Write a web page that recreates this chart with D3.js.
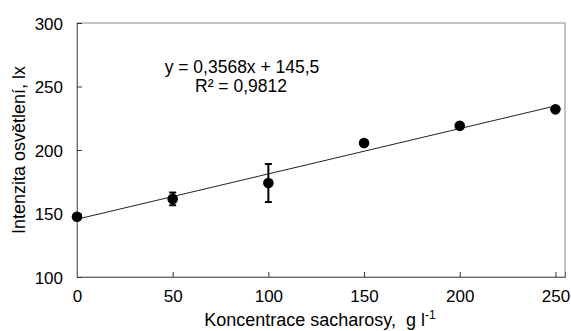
<!DOCTYPE html>
<html>
<head>
<meta charset="utf-8">
<script src="https://cdn.jsdelivr.net/npm/d3@7"></script>
<style>
  body { margin: 0; background: #fff; }
  text { font-family: "Liberation Sans", Arial, sans-serif; fill: #000; }
</style>
</head>
<body>
<div id="plot"></div>
<script>
// data
var conc = [0, 50, 100, 150, 200, 250];
var intensity = [147.5, 161.5, 174, 205.5, 219, 232];
var errs = [0, 5, 15, 0, 0, 0];
var xTicks = [0, 50, 100, 150, 200, 250];
var yTicks = [100, 150, 200, 250, 300];
var slope = 0.3568, intercept = 145.5;

var margin = {top: 23, right: 6, bottom: 54, left: 77},
    width = 571 - margin.left - margin.right,
    height = 331 - margin.top - margin.bottom;

var svg = d3.select("#plot")
  .append("svg")
    .attr("width", 571)
    .attr("height", 331)
  .append("g")
    .attr("transform", "translate(" + margin.left + "," + margin.top + ")");

var x = d3.scaleLinear().domain([0, 255]).range([0, width]);
var y = d3.scaleLinear().domain([100, 300]).range([height, 0]);

// frame
svg.append("rect")
  .attr("x", 0).attr("y", 0)
  .attr("width", width).attr("height", height)
  .attr("fill", "none")
  .attr("stroke", "#8a8a8a")
  .attr("stroke-width", 1);

// axes, ticks pointing inward
var xAxis = svg.append("g")
  .attr("transform", "translate(0," + height + ")")
  .call(d3.axisBottom(x).tickValues(xTicks).tickSize(-5).tickPadding(13));
var yAxis = svg.append("g")
  .call(d3.axisLeft(y).tickValues(yTicks).tickSize(-5).tickPadding(14));
[xAxis, yAxis].forEach(function(a) {
  a.select(".domain").attr("stroke", "#6a6a6a");
  a.selectAll(".tick line").attr("stroke", "#333");
  a.selectAll(".tick text").style("font-size", "17px").attr("font-family", "Liberation Sans, Arial, sans-serif");
});
yAxis.selectAll(".tick text").attr("dy", "0.36em");
xAxis.selectAll(".tick text").attr("dy", "0.7em");

// trendline
svg.append("line")
  .attr("x1", x(0)).attr("y1", y(intercept))
  .attr("x2", x(250)).attr("y2", y(intercept + slope * 250))
  .attr("stroke", "#222")
  .attr("stroke-width", 1);

// error bars
var pts = conc.map(function(c, i) { return {c: c, v: intensity[i], e: errs[i]}; });
var eb = svg.append("g").selectAll("g").data(pts.filter(function(d) { return d.e > 0; }))
  .enter().append("g");
eb.append("line")
  .attr("x1", function(d) { return x(d.c); }).attr("x2", function(d) { return x(d.c); })
  .attr("y1", function(d) { return y(d.v - d.e); }).attr("y2", function(d) { return y(d.v + d.e); })
  .attr("stroke", "#000").attr("stroke-width", 2);
eb.selectAll(".cap").data(function(d) { return [d.v - d.e, d.v + d.e].map(function(v) { return {c: d.c, v: v}; }); })
  .enter().append("line")
  .attr("x1", function(d) { return x(d.c) - 3.5; }).attr("x2", function(d) { return x(d.c) + 3.5; })
  .attr("y1", function(d) { return y(d.v); }).attr("y2", function(d) { return y(d.v); })
  .attr("stroke", "#000").attr("stroke-width", 2);

// points
svg.append("g").selectAll("circle").data(pts).enter()
  .append("circle")
    .attr("cx", function(d) { return x(d.c); })
    .attr("cy", function(d) { return y(d.v); })
    .attr("r", 5.3)
    .attr("fill", "#000");

// equation
svg.append("text")
  .attr("x", 242 - margin.left).attr("y", 73 - margin.top)
  .attr("text-anchor", "middle")
  .style("font-size", "17.5px")
  .text("y = 0,3568x + 145,5");
svg.append("text")
  .attr("x", 241 - margin.left).attr("y", 92 - margin.top)
  .attr("text-anchor", "middle")
  .style("font-size", "17.5px")
  .text("R² = 0,9812");

// y label
svg.append("text")
  .attr("text-anchor", "middle")
  .attr("transform", "rotate(-90)")
  .attr("x", -(150 - margin.top))
  .attr("y", -margin.left + 25)
  .style("font-size", "18px")
  .text("Intenzita osvětlení, lx");

// x label
var xl = svg.append("text")
  .attr("text-anchor", "middle")
  .attr("x", 320 - margin.left)
  .attr("y", 326 - margin.top)
  .style("font-size", "18px");
xl.append("tspan").text("Koncentrace sacharosy,\u00a0 g l");
xl.append("tspan").attr("dy", "-7").style("font-size", "12px").text("-1");
</script>
</body>
</html>
